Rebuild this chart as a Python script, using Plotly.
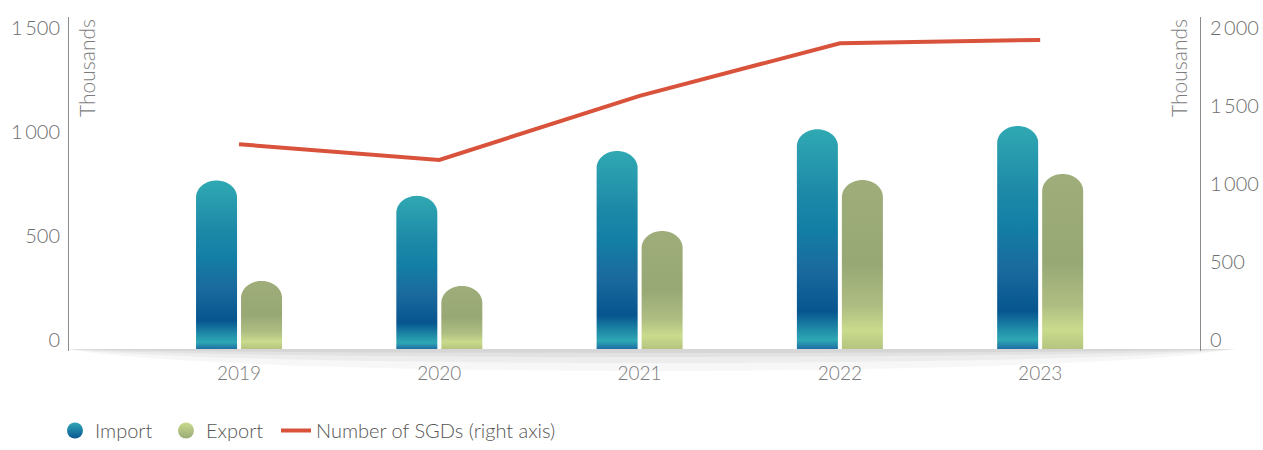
import numpy as np
import plotly.graph_objects as go

# ---- data -------------------------------------------------------------
years = ["2019", "2020", "2021", "2022", "2023"]
import_vals = [810, 736, 952, 1056, 1072]      # thousands (left axis)
export_vals = [327, 303, 567, 812, 841]        # thousands (left axis)
sgd_vals = [1312, 1212, 1622, 1960, 1981]      # thousands (right axis)

left_tickvals = [0, 500, 1000, 1500]
left_ticktext = ["0", "500", "1\u2009000", "1\u2009500"]
right_tickvals = [0, 500, 1000, 1500, 2000]
right_ticktext = ["0", "500", "1\u2009000", "1\u2009500", "2\u2009000"]

# ---- layout geometry --------------------------------------------------
W, H = 1263, 450
M_L, M_R, M_T, M_B = 69, 63, 17, 99
PLOT_W = W - M_L - M_R
PLOT_H = H - M_T - M_B
Y_RANGE = [-10, 1596]
Y2_RANGE = [v * 4 / 3 for v in Y_RANGE]
X_RANGE = [-0.849, 4.798]

PX_PER_X = PLOT_W / (X_RANGE[1] - X_RANGE[0])
PX_PER_Y = PLOT_H / (Y_RANGE[1] - Y_RANGE[0])

BAR_HALF_PX = 20.5      # half width of one bar
BAR_OFFSET_PX = 22.5    # distance of each bar centre from the category centre
CAP_PX = 17             # height of the rounded bar top

FONT = "Lato, 'Open Sans', sans-serif"
TEXT_GREY = "#6e6e6e"

IMPORT_SCALE = [
    [0.00, "#1d6ea3"],
    [0.04, "#2ea8b4"],
    [0.09, "#1f8aa8"],
    [0.17, "#06558f"],
    [0.36, "#1a6a9e"],
    [0.55, "#137fa5"],
    [0.72, "#1e8aa8"],
    [1.00, "#30a9b3"],
]
EXPORT_SCALE = [
    [0.00, "#b5c57f"],
    [0.11, "#cadb8d"],
    [0.25, "#aebe82"],
    [0.50, "#98a875"],
    [1.00, "#9ead7a"],
]


def capsule(center, value):
    """Outline of a bar with a rounded top, in data units."""
    hw = BAR_HALF_PX / PX_PER_X
    cap = min(CAP_PX / PX_PER_Y, value)
    t = np.linspace(np.pi, 0, 41)
    xs = [center - hw, center - hw] + list(center + hw * np.cos(t)) + [center + hw, center - hw]
    ys = [0, value - cap] + list(value - cap + cap * np.sin(t)) + [0, 0]
    return xs, ys


fig = go.Figure()

idx = np.arange(len(years))
off = BAR_OFFSET_PX / PX_PER_X

for series, scale, sign in ((import_vals, IMPORT_SCALE, -1), (export_vals, EXPORT_SCALE, 1)):
    for i, v in zip(idx, series):
        xs, ys = capsule(i + sign * off, v)
        fig.add_trace(go.Scatter(
            x=xs, y=ys, mode="none", fill="toself",
            fillgradient=dict(type="vertical", start=0, stop=v, colorscale=scale),
            showlegend=False, hoverinfo="skip",
        ))

# legend entries for the two bar series
fig.add_trace(go.Scatter(
    x=[None], y=[None], mode="markers", name="Import", legend="legend",
    marker=dict(symbol="circle", size=20, color="#2fa6b5",
                gradient=dict(type="vertical", color="#0a5791")),
))
fig.add_trace(go.Scatter(
    x=[None], y=[None], mode="markers", name="Export", legend="legend2",
    marker=dict(symbol="circle", size=20, color="#c9da8c",
                gradient=dict(type="vertical", color="#9aab78")),
))

# number of SGDs on the right axis
fig.add_trace(go.Scatter(
    x=idx, y=sgd_vals, yaxis="y2", mode="lines", legend="legend3",
    name="Number of SGDs (right axis)",
    line=dict(color="#d9533c", width=4),
))


# soft floor shadow beneath the bars
def px_x(p):
    return (p - M_L) / PLOT_W


def px_y(p):
    return (M_T + PLOT_H - p) / PLOT_H


shapes = []
base = 349
for depth, alpha in ((22, 0.03), (14, 0.04), (8, 0.045), (4, 0.05)):
    x0, x1 = px_x(66), px_x(1236)
    y0 = px_y(base)
    yc = px_y(base + depth * 1.33)
    path = f"M {x0},{y0} C {px_x(230)},{yc} {px_x(1070)},{yc} {x1},{y0} Z"
    shapes.append(dict(type="path", path=path, xref="paper", yref="paper",
                       fillcolor=f"rgba(0,0,0,{alpha})", line=dict(width=0),
                       layer="below"))

title_font = dict(family=FONT, size=21, color="#7c7c7c", weight=300)
annotations = [
    dict(text="Thousands", textangle=-90, xref="paper", yref="paper",
         x=px_x(86), y=px_y(17), xanchor="center", yanchor="top",
         showarrow=False, font=title_font),
    dict(text="Thousands", textangle=-90, xref="paper", yref="paper",
         x=px_x(1178), y=px_y(17), xanchor="center", yanchor="top",
         showarrow=False, font=title_font),
]

tick_font = dict(family=FONT, size=20, color=TEXT_GREY, weight=300)
legend_font = dict(family=FONT, size=20, color="#555555", weight=300)


def legend_at(px_left):
    return dict(
        orientation="h", xref="container", yref="container",
        x=px_left / W, y=-4 / H, xanchor="left", yanchor="bottom",
        font=legend_font, itemsizing="trace", bgcolor="rgba(0,0,0,0)",
    )


fig.update_layout(
    width=W, height=H,
    margin=dict(l=M_L, r=M_R, t=M_T, b=M_B, pad=0, autoexpand=False),
    paper_bgcolor="white", plot_bgcolor="white",
    font=dict(family=FONT, color="#555555", weight=300),
    shapes=shapes, annotations=annotations,
    xaxis=dict(
        range=X_RANGE, tickmode="array", tickvals=list(idx), ticktext=years,
        showgrid=False, zeroline=False, showline=False, ticks="",
        tickfont=dict(family=FONT, size=19, color="#7a7a7a", weight=300),
        ticklabelstandoff=9, fixedrange=True,
    ),
    yaxis=dict(
        range=Y_RANGE, tickmode="array", tickvals=left_tickvals, ticktext=left_ticktext,
        showgrid=False, zeroline=False, showline=True, linecolor="#8c8c8c", linewidth=1,
        ticks="", tickfont=tick_font, ticklabelstandoff=4, ticklabelshift=-9,
    ),
    yaxis2=dict(
        range=Y2_RANGE, overlaying="y", side="right",
        tickmode="array", tickvals=right_tickvals, ticktext=right_ticktext,
        showgrid=False, zeroline=False, showline=True, linecolor="#8c8c8c", linewidth=1,
        ticks="", tickfont=tick_font, ticklabelstandoff=5, ticklabelshift=-9,
    ),
    legend=legend_at(55),
    legend2=legend_at(166),
    legend3=legend_at(276),
    showlegend=True,
)

fig.write_html("out.html")
